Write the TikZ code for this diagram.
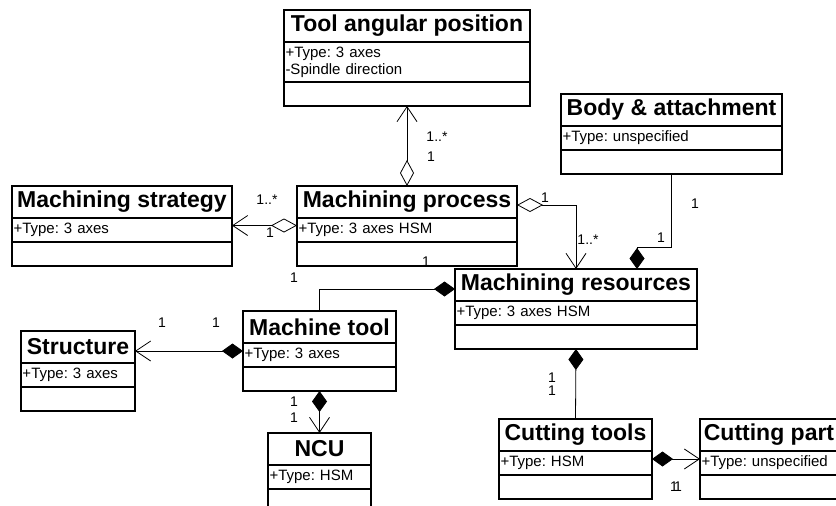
\documentclass[tikz,border=0pt]{standalone}
\usepackage{fontspec}
\setmainfont{Liberation Sans}
\usetikzlibrary{arrows.meta,positioning}

\begin{document}
\frenchspacing
\begin{tikzpicture}[x=1pt,y=-1pt,
  ctitle/.style={draw,line width=1.2pt,outer sep=0pt,font=\fontsize{23}{26}\selectfont\bfseries,minimum height=32pt,inner sep=0pt,anchor=north west},
  cattr/.style={draw,line width=1.2pt,outer sep=0pt,font=\fontsize{15}{17}\selectfont,minimum height=24pt,inner xsep=1.5pt,inner ysep=0pt,align=left},
  cops/.style={draw,line width=1.2pt,outer sep=0pt,minimum height=24pt,inner sep=0pt},
  mult/.style={font=\fontsize{14}{16}\selectfont,inner sep=0pt},
  aggr/.style={line width=.8pt,arrows={Diamond[open,length=26pt,width=14pt]-Straight Barb[length=15pt,width=20pt]}},
  comp/.style={line width=.8pt,arrows={Diamond[length=21pt,width=15pt]-Straight Barb[length=15pt,width=20pt]}},
  compn/.style={line width=.8pt,arrows={Diamond[length=21pt,width=15pt]-}}]
        \path[use as bounding box] (0,0) rectangle (836,506);
        \clip (0,0) rectangle (836,506);

        % classes
        \node[ctitle,minimum width=246pt] (tapt) at (284,10) {Tool angular position};
        \node[cattr,text width=243pt,minimum height=40pt,below=0pt of tapt] (tapa) {+Type: 3 axes\\-Spindle direction};
        \node[cops,minimum width=246pt,below=0pt of tapa] (tapo) {};

        \node[ctitle,minimum width=220pt] (stratt) at (12,186) {Machining strategy};
        \node[cattr,text width=217pt,below=0pt of stratt] (strata) {+Type: 3 axes};
        \node[cops,minimum width=220pt,below=0pt of strata] (strato) {};

        \node[ctitle,minimum width=220pt] (proct) at (297,186) {Machining process};
        \node[cattr,text width=217pt,below=0pt of proct] (proca) {+Type: 3 axes HSM};
        \node[cops,minimum width=220pt,below=0pt of proca] (proco) {};

        \node[ctitle,minimum width=221pt] (bodyt) at (561,94) {Body \& attachment};
        \node[cattr,text width=218pt,below=0pt of bodyt] (bodya) {+Type: unspecified};
        \node[cops,minimum width=221pt,below=0pt of bodya] (bodyo) {};

        \node[ctitle,minimum width=242pt] (rest) at (455,269) {Machining resources};
        \node[cattr,text width=239pt,below=0pt of rest] (resa) {+Type: 3 axes HSM};
        \node[cops,minimum width=242pt,below=0pt of resa] (reso) {};

        \node[ctitle,minimum width=153pt] (mtt) at (243,311) {Machine tool};
        \node[cattr,text width=150pt,below=0pt of mtt] (mta) {+Type: 3 axes};
        \node[cops,minimum width=153pt,below=0pt of mta] (mto) {};

        \node[ctitle,minimum width=114pt] (struct) at (21,331) {Structure};
        \node[cattr,text width=111pt,below=0pt of struct] (struca) {+Type: 3 axes};
        \node[cops,minimum width=114pt,below=0pt of struca] (struco) {};

        \node[ctitle,minimum width=103pt] (ncut) at (268,433) {NCU};
        \node[cattr,text width=100pt,below=0pt of ncut] (ncua) {+Type: HSM};
        \node[cops,minimum width=103pt,below=0pt of ncua] (ncuo) {};

        \node[ctitle,minimum width=153pt] (ctt) at (499,419) {Cutting tools};
        \node[cattr,text width=150pt,below=0pt of ctt] (cta) {+Type: HSM};
        \node[cops,minimum width=153pt,below=0pt of cta] (cto) {};

        \node[ctitle,minimum width=138pt] (cpt) at (700,419) {Cutting part};
        \node[cattr,text width=135pt,below=0pt of cpt] (cpa) {+Type: unspecified};
        \node[cops,minimum width=138pt,below=0pt of cpa] (cpo) {};

        % associations
        \draw[aggr] (proct.north) -- (tapo.south);
        \draw[aggr] ([yshift=4.5pt]proca.west) -- ([yshift=4.5pt]strata.east);
        \draw[aggr] ([yshift=-3pt]proct.east) -| (rest.north);
        \draw[compn] ([xshift=61pt]rest.north) -- ([xshift=61pt,yshift=22pt]rest.north) -| (bodyo.south);
        \draw[compn] ([yshift=-4pt]rest.west) -| (mtt.north);
        \draw[comp] ([yshift=4pt]mta.west) -- ([yshift=4pt]mta.west -| struct.east);
        \draw[comp] (mto.south) -- (ncut.north);
        \draw[compn] (reso.south) -- (ctt.north);
        \draw[comp] ([yshift=4pt]cta.east) -- ([yshift=4pt]cpa.west);

        % multiplicities
        \node[mult] (m1) at (437,137) {1..*};
        \node[mult] (m2) at (431,157) {1};
        \node[mult] (m3) at (267,200) {1..*};
        \node[mult] (m4) at (270,233) {1};
        \node[mult] (m5) at (545,198) {1};
        \node[mult] (m6) at (588,240) {1..*};
        \node[mult] (m7) at (661,238) {1};
        \node[mult] (m8) at (695,204) {1};
        \node[mult] (m9) at (294,278) {1};
        \node[mult] (m10) at (426,262) {1};
        \node[mult] (m11) at (162,323) {1};
        \node[mult] (m12) at (216,323) {1};
        \node[mult] (m13) at (294,402) {1};
        \node[mult] (m14) at (294,418) {1};
        \node[mult] (m15) at (552,378) {1};
        \node[mult] (m16) at (552,391) {1};
        \node[mult] (m17) at (674,487) {1};
        \node[mult] (m18) at (678,487) {1};
\end{tikzpicture}
\end{document}
